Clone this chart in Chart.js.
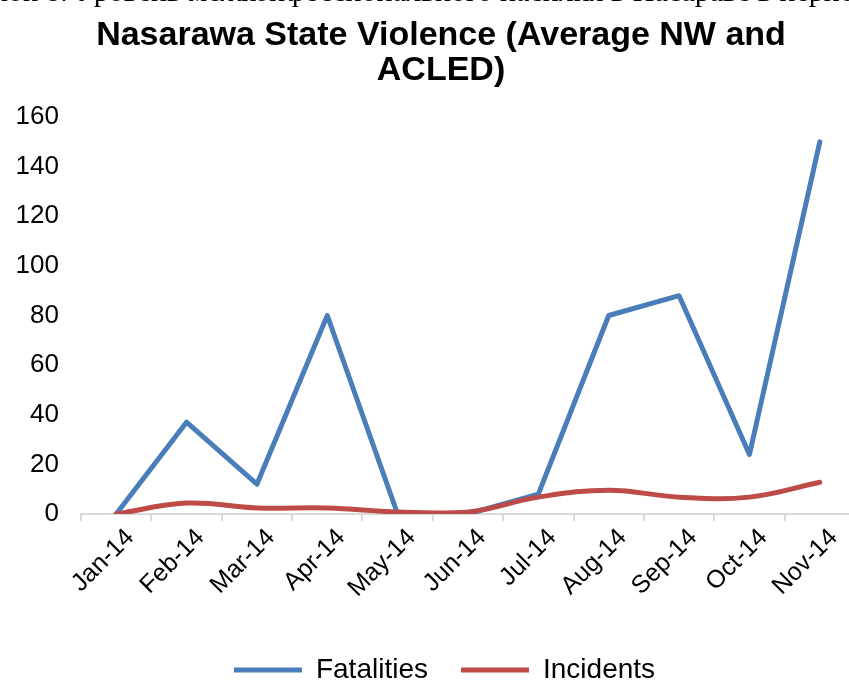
<!DOCTYPE html>
<html><head><meta charset="utf-8">
<script src="https://cdn.jsdelivr.net/npm/chart.js@4"></script>
<style>
html,body{margin:0;padding:0;background:#fff;overflow:hidden;width:849px;height:684px;position:relative;}
#cap{position:absolute;left:-8px;top:-24px;font-family:"Liberation Serif","Times New Roman",serif;font-size:30px;line-height:30px;white-space:nowrap;color:#000;}
#wrap{position:absolute;left:0;top:0;width:870px;height:694px;}
</style></head><body>
<div id="wrap"><canvas id="c" width="870" height="694"></canvas></div>
<div id="cap">нок 8. Уровень межконфессионального насилия в Насараве в период</div>
<script>
const titleLines = ["Nasarawa State Violence (Average NW and", "ACLED)"];
const months = ["Jan-14","Feb-14","Mar-14","Apr-14","May-14","Jun-14","Jul-14","Aug-14","Sep-14","Oct-14","Nov-14"];
const fatalities = [0, 37, 12, 80, 0, 0, 8, 80, 88, 24, 150];
const incidents = [0, 4.4, 2.4, 2.4, 0.8, 0.8, 6.8, 9.6, 6.8, 6.8, 12.8];
const yMin = 0, yMax = 160, yStep = 20;

const BLUE = '#4a7ebb', RED = '#be4b48';
const FONT = '"Liberation Sans", Arial, sans-serif';

const shiftBlocks = {
  id: 'shiftBlocks',
  afterLayout(chart) {
    const lg = chart.legend;
    if (lg) { lg.left += 17; lg.right += 17; }
    const tb = chart.titleBlock;
    if (tb) { tb.left += 13.5; tb.right += 13.5; }
  }
};

new Chart(document.getElementById('c'), {
  type: 'line',
  data: {
    labels: months,
    datasets: [
      { label: 'Fatalities', data: fatalities, borderColor: BLUE, backgroundColor: BLUE,
        borderWidth: 5, tension: 0, pointRadius: 0, pointHoverRadius: 0,
        borderJoinStyle: 'round', borderCapStyle: 'round', order: 1 },
      { label: 'Incidents', data: incidents, borderColor: RED, backgroundColor: RED,
        borderWidth: 5, tension: 0.4, pointRadius: 0, pointHoverRadius: 0,
        borderJoinStyle: 'round', borderCapStyle: 'round', order: 0 }
    ]
  },
  options: {
    responsive: false,
    animation: false,
    devicePixelRatio: 1,
    layout: { padding: { left: 0, right: 15, top: 0, bottom: 0 } },
    plugins: {
      title: {
        display: true, text: titleLines, color: '#000',
        font: { family: FONT, size: 34, weight: 'bold', lineHeight: 1.03 },
        padding: { top: 18, bottom: 29 }
      },
      legend: {
        position: 'bottom',
        labels: {
          color: '#000',
          font: { family: FONT, size: 28 },
          boxWidth: 68, boxHeight: 5, padding: 33,
          generateLabels(chart) {
            return chart.data.datasets.map((ds, i) => ({
              text: ds.label, fillStyle: ds.borderColor, strokeStyle: ds.borderColor,
              lineWidth: 0, hidden: false, datasetIndex: i, fontColor: '#000'
            }));
          }
        }
      },
      tooltip: { enabled: false }
    },
    scales: {
      x: {
        offset: true,
        grid: { display: true, offset: true, drawOnChartArea: false, drawTicks: true, tickLength: 7, color: '#d9d9d9', lineWidth: 2 },
        border: { display: true, color: '#d9d9d9', width: 2 },
        ticks: { color: '#000', font: { family: FONT, size: 25 }, minRotation: 45, maxRotation: 45, autoSkip: false, padding: 2, labelOffset: 14 },
        afterFit(scale) { scale.height = 109; }
      },
      y: {
        min: yMin, max: yMax,
        grid: { display: false },
        border: { display: false },
        ticks: { stepSize: yStep, color: '#000', font: { family: FONT, size: 26 }, padding: 14 },
        afterFit(scale) { scale.width = 81; }
      }
    }
  },
  plugins: [shiftBlocks]
});
</script>
</body></html>
